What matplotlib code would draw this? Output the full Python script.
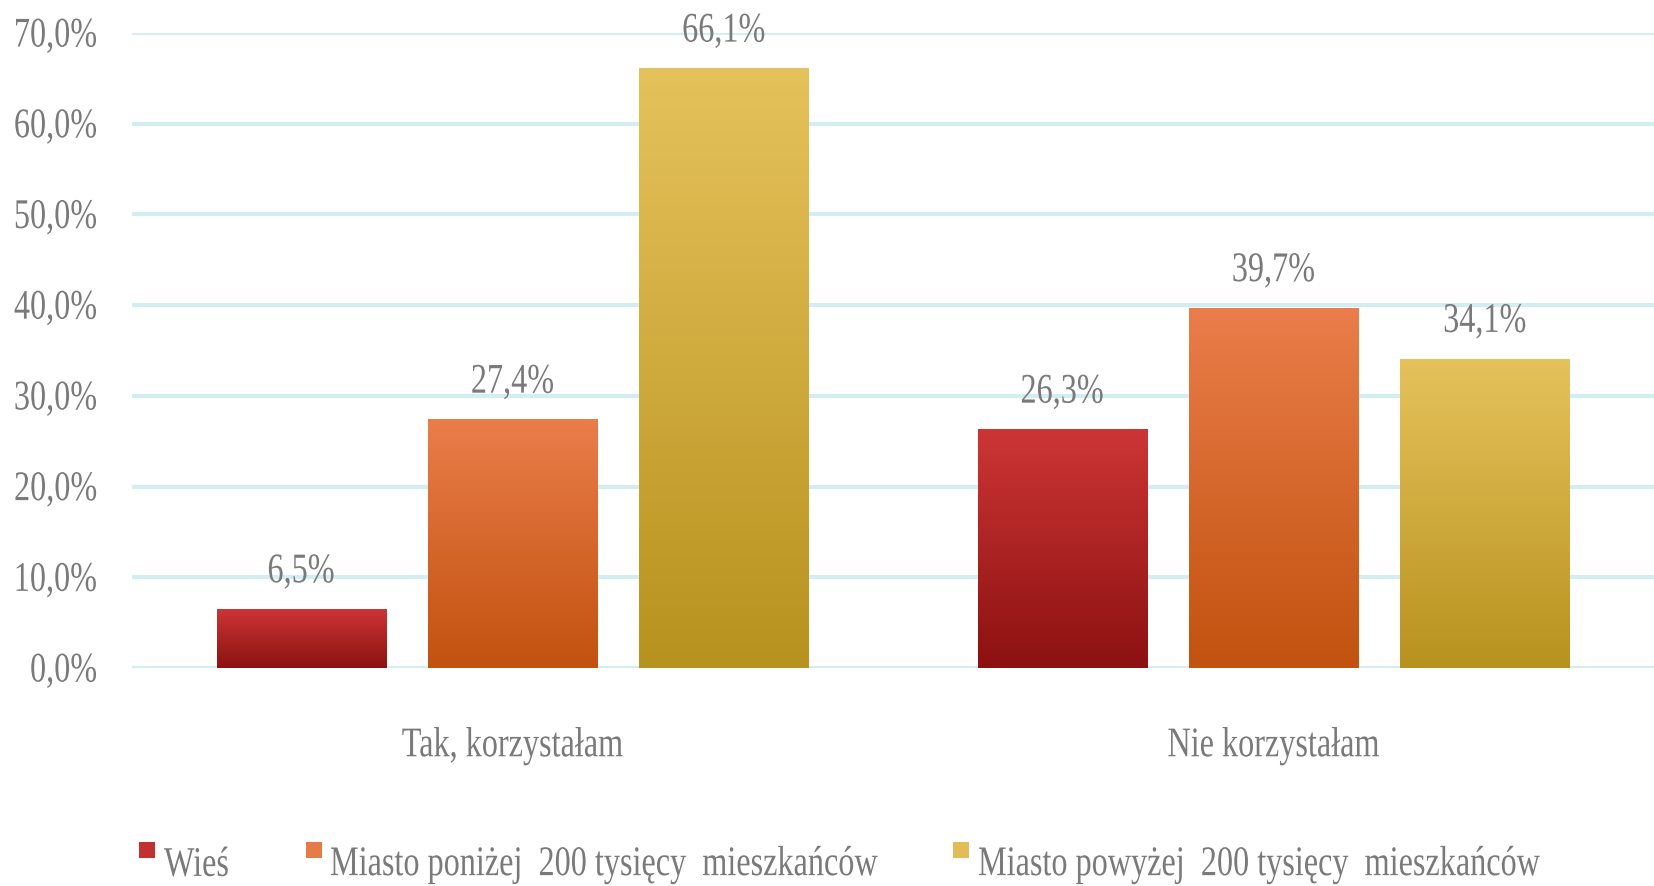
import matplotlib
matplotlib.use('Agg')
import matplotlib.pyplot as plt
from matplotlib.colors import LinearSegmentedColormap
from matplotlib.patheffects import AbstractPathEffect
from matplotlib.transforms import Affine2D
from matplotlib.patches import Rectangle
import numpy as np

categories = ['Tak, korzystałam', 'Nie korzystałam']
series = ['Wieś', 'Miasto poniżej  200 tysięcy  mieszkańców', 'Miasto powyżej  200 tysięcy  mieszkańców']
values = [[6.5, 26.3],
          [27.4, 39.7],
          [66.1, 34.1]]
yticks = [0, 10, 20, 30, 40, 50, 60, 70]

# top / bottom colours of each series gradient
top_colors = ['#cd3535', '#ea7d4a', '#e6c25c']
bottom_colors = ['#8c1111', '#c2520f', '#b8921e']
mid_colors = ['#c42f2f', '#e57c48', '#e2bc55']

grey = '#7a7a7a'
fsize = 23.2
sy = 1.31
plt.rcParams['font.family'] = ['Liberation Serif', 'DejaVu Serif']


class Tall(AbstractPathEffect):
   # stretch text vertically about its middle (reference uses a narrow Times)
   def __init__(self, sy):
      super().__init__()
      self.sy = sy

   def draw_path(self, renderer, gc, tpath, affine, rgbFace=None):
      v = affine.transform(tpath.vertices)
      yc = 0.5*(v[:, 1].min() + v[:, 1].max())
      aff = affine + Affine2D().translate(0, -yc).scale(1, self.sy).translate(0, yc)
      renderer.draw_path(gc, tpath, aff, rgbFace)


W, H = 1654., 887.
fig = plt.figure(figsize=(16.54, 8.87), dpi=100)
ax = fig.add_axes([132/W, 218/H, 1522/W, 635/H])

x = np.arange(len(categories))
width = 160/720.
step = 200/720.

for i in range(len(series)):
   bars = ax.bar(x + (i-1)*step, values[i], width, color=mid_colors[i], label=series[i], zorder=3)
   cmap = LinearSegmentedColormap.from_list('g%d' % i, [bottom_colors[i], top_colors[i]])
   for b in bars:
      x0, y0 = b.get_x(), b.get_y()
      w, h = b.get_width(), b.get_height()
      grad = np.linspace(0, 1, 256).reshape(-1, 1)
      im = ax.imshow(grad, extent=[x0, x0+w, y0, y0+h], origin='lower', aspect='auto',
                     cmap=cmap, zorder=4)
      im.set_clip_path(b)
      ax.annotate(('%.1f%%' % h).replace('.', ','), (x0 + w/2., h), xytext=(0, 26.5),
                  textcoords='offset points', ha='center', va='center',
                  fontsize=fsize, color=grey, zorder=5,
                  path_effects=[Tall(sy)])

ax.set_xlim(-0.5, 1.5)
ax.set_ylim(0, 70)
ax.set_yticks(yticks)
ax.set_yticklabels([('%.1f%%' % t).replace('.', ',') for t in yticks])
ax.set_xticks(x)
ax.set_xticklabels(categories)
ax.tick_params(axis='both', length=0, labelsize=fsize, labelcolor=grey)
ax.tick_params(axis='y', pad=25)
ax.tick_params(axis='x', pad=46)
for t in ax.get_yticklabels() + ax.get_xticklabels():
   t.set_path_effects([Tall(sy)])
ax.yaxis.grid(True, color='#d3eef3', linewidth=3, zorder=0)
ax.set_axisbelow(True)
for s in ax.spines.values():
   s.set_visible(False)

# legend drawn by hand to keep the reference spacing
leg_box_x = [139, 306, 953]
leg_text_x = [164, 330, 978]
leg_y = 866
for i in range(len(series)):
   fig.patches.append(Rectangle((leg_box_x[i]/W, 1 - 859/H), 16/W, 16/H,
                                transform=fig.transFigure, facecolor=mid_colors[i],
                                edgecolor='none'))
   fig.text(leg_text_x[i]/W, 1 - leg_y/H, series[i], ha='left', va='center',
            fontsize=fsize, color=grey, path_effects=[Tall(sy)])

plt.savefig('out.png', dpi=100)
